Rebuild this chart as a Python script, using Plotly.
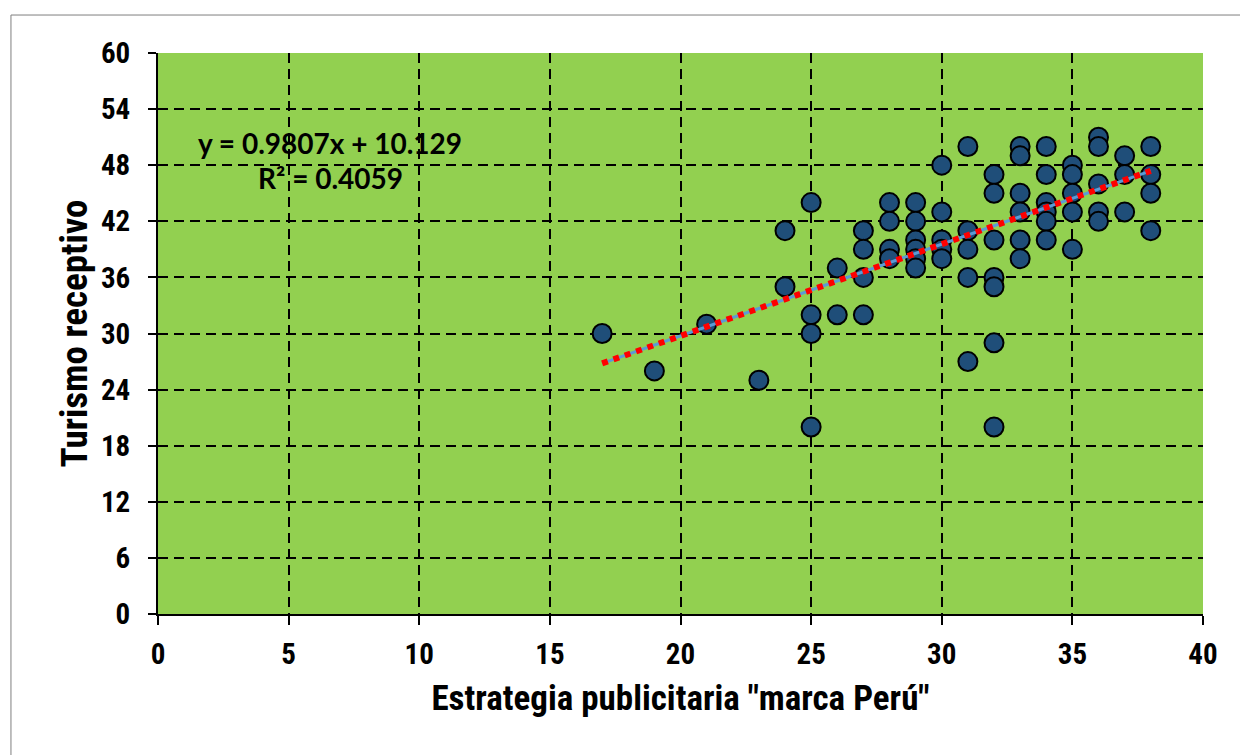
import plotly.graph_objects as go

# Data
estrategia = [17, 19, 21, 23,
              24, 24,
              25, 25, 25, 25,
              26, 26,
              27, 27, 27, 27,
              28, 28, 28, 28,
              29, 29, 29, 29, 29, 29,
              30, 30, 30, 30, 30,
              31, 31, 31, 31, 31,
              32, 32, 32, 32, 32, 32, 32,
              33, 33, 33, 33, 33, 33,
              34, 34, 34, 34, 34, 34,
              35, 35, 35, 35, 35,
              36, 36, 36, 36, 36,
              37, 37, 37,
              38, 38, 38, 38]
turismo = [30, 26, 31, 25,
           41, 35,
           44, 32, 30, 20,
           37, 32,
           41, 39, 36, 32,
           44, 42, 39, 38,
           44, 42, 40, 39, 38, 37,
           48, 43, 40, 39, 38,
           50, 41, 39, 36, 27,
           47, 45, 40, 36, 35, 29, 20,
           50, 49, 45, 43, 40, 38,
           50, 47, 44, 43, 42, 40,
           48, 47, 45, 43, 39,
           51, 50, 46, 43, 42,
           49, 47, 43,
           50, 47, 45, 41]

slope = 0.9807
intercept = 10.129
r2 = 0.4059

x_ticks = [0, 5, 10, 15, 20, 25, 30, 35, 40]
y_ticks = [0, 6, 12, 18, 24, 30, 36, 42, 48, 54, 60]

trend_x = [min(estrategia), max(estrategia)]
trend_y = [slope * v + intercept for v in trend_x]

narrow = "Liberation Sans Narrow, Arial Narrow, Roboto Condensed, Roboto, sans-serif"
eqfont = "Lato, Open Sans, sans-serif"

fig = go.Figure()
fig.add_trace(go.Scatter(
    x=estrategia, y=turismo, mode="markers",
    marker=dict(size=19, color="#1F4E79", line=dict(color="black", width=2)),
    showlegend=False, hoverinfo="x+y"))
fig.add_trace(go.Scatter(
    x=trend_x, y=trend_y, mode="lines",
    line=dict(color="#5B9BD5", width=3), showlegend=False, hoverinfo="skip"))
fig.add_trace(go.Scatter(
    x=trend_x, y=trend_y, mode="lines",
    line=dict(color="#FF0000", width=6, dash="dot"), showlegend=False, hoverinfo="skip"))

fig.update_layout(
    width=1248, height=755,
    margin=dict(l=150, r=53, t=45, b=149),
    paper_bgcolor="white", plot_bgcolor="#92D050",
    font=dict(family=narrow, color="black"),
    xaxis=dict(
        range=[0, 40], tickvals=x_ticks, ticktext=[str(v) for v in x_ticks],
        showgrid=True, gridcolor="black", gridwidth=2, griddash="10px,6px",
        showline=True, linecolor="black", linewidth=2, zeroline=False,
        ticks="outside", ticklen=9, tickwidth=2, tickcolor="black",
        tickfont=dict(family=narrow, size=29, color="black", weight="bold"),
        ticklabelstandoff=4,
        title=dict(text='Estrategia publicitaria "marca Perú"', standoff=16,
                   font=dict(family=narrow, size=35, color="black", weight="bold")),
    ),
    yaxis=dict(
        range=[0, 60], tickvals=y_ticks, ticktext=[str(v) for v in y_ticks],
        showgrid=True, gridcolor="black", gridwidth=2, griddash="10px,6px",
        showline=True, linecolor="black", linewidth=2, zeroline=False,
        ticks="outside", ticklen=8, tickwidth=2, tickcolor="black",
        tickfont=dict(family=narrow, size=29, color="black", weight="bold"),
        ticklabelstandoff=12,
        title=dict(text="Turismo receptivo", standoff=2,
                   font=dict(family=narrow, size=37, color="black", weight="bold")),
    ),
    shapes=[dict(type="rect", xref="paper", yref="paper",
                 x0=-0.1407, x1=1.2, y0=-0.5, y1=1.0677,
                 line=dict(color="#7F7F7F", width=1), fillcolor="rgba(0,0,0,0)", layer="below")],
    annotations=[
        dict(x=6.6, y=50.4, xref="x", yref="y", showarrow=False,
             text=f"y = {slope}x + {intercept}",
             font=dict(family=eqfont, size=28, color="black", weight="bold")),
        dict(x=6.6, y=46.6, xref="x", yref="y", showarrow=False,
             text=f"R² = {r2}",
             font=dict(family=eqfont, size=28, color="black", weight="bold")),
    ],
)

fig.write_html("out.html")
